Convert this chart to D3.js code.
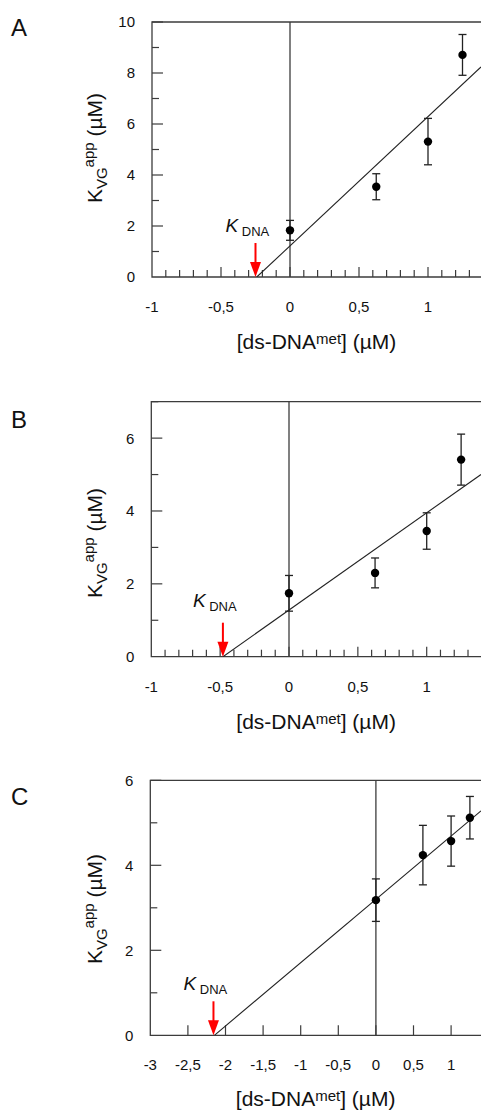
<!DOCTYPE html>
<html>
<head>
<meta charset="utf-8">
<script src="https://cdn.jsdelivr.net/npm/d3@7"></script>
<style>
  html, body { margin: 0; padding: 0; background: #fff; }
  svg { display: block; }
  text { font-family: "Liberation Sans", Arial, sans-serif; fill: #111; }
</style>
</head>
<body>
<svg id="chart" width="481" height="1110"></svg>
<script>
// ---------------- DATA ----------------
const panelLetters = ["A", "B", "C"];
const xValues = [0, 0.625, 1, 1.25];          // [ds-DNAmet] (µM)
const yA = [1.83, 3.54, 5.31, 8.71];          // KVGapp (µM)
const errA = [0.39, 0.51, 0.91, 0.80];
const yB = [1.74, 2.30, 3.45, 5.41];
const errB = [0.49, 0.41, 0.50, 0.70];
const yC = [3.18, 4.24, 4.57, 5.12];
const errC = [0.50, 0.70, 0.59, 0.50];
const fitA = [1.22, 5.07];                    // [intercept, slope]
const fitB = [1.28, 2.67];
const fitC = [3.20, 1.49];
const kdnaValues = [-0.25, -0.48, -2.16];     // K_DNA arrow positions
const xTicksAB = [-1, -0.5, 0, 0.5, 1];
const xTicksC = [-3, -2.5, -2, -1.5, -1, -0.5, 0, 0.5, 1];
const yTicksA = [0, 2, 4, 6, 8, 10];
const yTicksBC = [0, 2, 4, 6];

// ---------------- LAYOUT ----------------
const W = 481;
const panels = [
  { letter: panelLetters[0], y: yA, err: errA, fit: fitA, kdna: kdnaValues[0],
    xDomain: [-1, 1.5], yDomain: [0, 10], left: 152, top: 22, bottom: 277, unitPx: 138,
    xTicks: xTicksAB, minorStep: 0.1, yTicks: yTicksA,
    letterBase: 36, yLabelCenter: 148, xLabelBase: 349, kLabelOff: 45 },
  { letter: panelLetters[1], y: yB, err: errB, fit: fitB, kdna: kdnaValues[1],
    xDomain: [-1, 1.5], yDomain: [0, 7], left: 151.3, top: 401.7, bottom: 656.7, unitPx: 137.7,
    xTicks: xTicksAB, minorStep: 0.1, yTicks: yTicksBC,
    letterBase: 428, yLabelCenter: 543, xLabelBase: 729, kLabelOff: 50 },
  { letter: panelLetters[2], y: yC, err: errC, fit: fitC, kdna: kdnaValues[2],
    xDomain: [-3, 1.5], yDomain: [0, 6], left: 150.3, top: 780.3, bottom: 1035.3, unitPx: 75.2,
    xTicks: xTicksC, minorStep: 0.5, yTicks: yTicksBC,
    letterBase: 805, yLabelCenter: 909, xLabelBase: 1106, kLabelOff: 45 }
];

const locale = d3.formatLocale({ decimal: ",", thousands: ".", grouping: [3], currency: ["", ""], minus: "-" });
const fmt = locale.format("~g");

const svg = d3.select("#chart");
const axisColor = "#3c3c3c";

panels.forEach((p, pi) => {
  const x = d3.scaleLinear().domain(p.xDomain)
    .range([p.left, p.left + p.unitPx * (p.xDomain[1] - p.xDomain[0])]);
  const y = d3.scaleLinear().domain(p.yDomain).range([p.bottom, p.top]);
  const right = W;
  const g = svg.append("g");

  const clipId = "clip" + pi;
  g.append("clipPath").attr("id", clipId).append("rect")
    .attr("x", p.left).attr("y", p.top - 10).attr("width", right - p.left).attr("height", p.bottom - p.top + 10);

  // panel letter
  g.append("text").attr("x", 11).attr("y", p.letterBase)
    .style("font-size", "24px").text(p.letter);

  // frame (left, top, bottom; right edge cropped)
  g.append("path")
    .attr("d", `M${right},${y(p.yDomain[1])}H${x(p.xDomain[0])}V${y(0)}H${right}`)
    .attr("fill", "none").attr("stroke", axisColor).attr("stroke-width", 1.3);

  // zero vertical line
  g.append("line").attr("x1", x(0)).attr("x2", x(0)).attr("y1", y(p.yDomain[1])).attr("y2", y(0))
    .attr("stroke", axisColor).attr("stroke-width", 1.3);

  // x ticks (inward)
  const xMax = x.invert(right);
  const nSteps = Math.floor((xMax - p.xDomain[0]) / p.minorStep + 1e-6);
  const xTickVals = d3.range(1, nSteps + 1).map(i => +(p.xDomain[0] + i * p.minorStep).toFixed(3));
  g.selectAll(null).data(xTickVals).join("line")
    .attr("x1", d => x(d)).attr("x2", d => x(d))
    .attr("y1", y(0))
    .attr("y2", d => y(0) - (Math.abs(d * 2 - Math.round(d * 2)) < 1e-6 ? 10 : 7))
    .attr("stroke", axisColor).attr("stroke-width", 1.2);

  // x tick labels
  g.selectAll(null).data(p.xTicks).join("text")
    .attr("x", d => x(d)).attr("y", y(0) + 35)
    .attr("text-anchor", "middle").style("font-size", "15px")
    .text(d => fmt(d));

  // y ticks (inward): major at even, minor at odd
  const yTickVals = d3.range(1, p.yDomain[1] + 1);
  g.selectAll(null).data(yTickVals).join("line")
    .attr("x1", x(p.xDomain[0])).attr("x2", d => x(p.xDomain[0]) + (d % 2 === 0 ? 11 : 7))
    .attr("y1", d => y(d)).attr("y2", d => y(d))
    .attr("stroke", axisColor).attr("stroke-width", 1.2);

  // y tick labels
  g.selectAll(null).data(p.yTicks).join("text")
    .attr("x", x(p.xDomain[0]) - 17).attr("y", d => y(d))
    .attr("dy", "0.36em").attr("text-anchor", "end").style("font-size", "15px")
    .text(d => fmt(d));

  // y axis label
  const yl = g.append("text")
    .attr("transform", `translate(102,${p.yLabelCenter}) rotate(-90)`)
    .attr("text-anchor", "middle").style("font-size", "21px");
  yl.append("tspan").text("K");
  yl.append("tspan").attr("dy", 5).style("font-size", "15px").text("VG");
  yl.append("tspan").attr("dy", -13).style("font-size", "15px").text("app");
  yl.append("tspan").attr("dy", 8).text(" (µM)");

  // x axis label
  const xl = g.append("text")
    .attr("x", (p.left + W) / 2).attr("y", p.xLabelBase)
    .attr("text-anchor", "middle").style("font-size", "21px");
  xl.append("tspan").text("[ds-DNA");
  xl.append("tspan").attr("dy", -5).style("font-size", "15px").text("met");
  xl.append("tspan").attr("dy", 5).text("] (µM)");

  // fit line from x-intercept to right edge
  const [b, m] = p.fit;
  const x0 = -b / m;
  g.append("line")
    .attr("x1", x(x0)).attr("y1", y(0))
    .attr("x2", x(xMax)).attr("y2", y(b + m * xMax))
    .attr("stroke", "#222").attr("stroke-width", 1.1)
    .attr("clip-path", `url(#${clipId})`);

  // error bars
  const pts = xValues.map((xv, i) => ({ x: xv, y: p.y[i], e: p.err[i] }));
  const eb = g.selectAll(null).data(pts).join("g").attr("stroke", "#222").attr("stroke-width", 1.3);
  eb.append("line").attr("x1", d => x(d.x)).attr("x2", d => x(d.x))
    .attr("y1", d => y(d.y - d.e)).attr("y2", d => y(d.y + d.e));
  eb.append("line").attr("x1", d => x(d.x) - 4).attr("x2", d => x(d.x) + 4)
    .attr("y1", d => y(d.y + d.e)).attr("y2", d => y(d.y + d.e));
  eb.append("line").attr("x1", d => x(d.x) - 4).attr("x2", d => x(d.x) + 4)
    .attr("y1", d => y(d.y - d.e)).attr("y2", d => y(d.y - d.e));

  // points
  g.selectAll(null).data(pts).join("circle")
    .attr("cx", d => x(d.x)).attr("cy", d => y(d.y)).attr("r", 4.2).attr("fill", "#000");

  // K_DNA arrow
  const ax = x(p.kdna), ay = y(0);
  g.append("line").attr("x1", ax).attr("x2", ax).attr("y1", ay - 34).attr("y2", ay - 13)
    .attr("stroke", "#ff0000").attr("stroke-width", 2);
  g.append("path").attr("d", `M${ax - 5.5},${ay - 15}L${ax + 5.5},${ay - 15}L${ax},${ay}Z`)
    .attr("fill", "#ff0000");

  // K_DNA label
  const kl = g.append("text").attr("x", ax - 30).attr("y", ay - p.kLabelOff).style("font-size", "19px");
  kl.append("tspan").style("font-style", "italic").text("K");
  kl.append("tspan").attr("dy", 4).style("font-size", "13px").text(" DNA");
});
</script>
</body>
</html>
